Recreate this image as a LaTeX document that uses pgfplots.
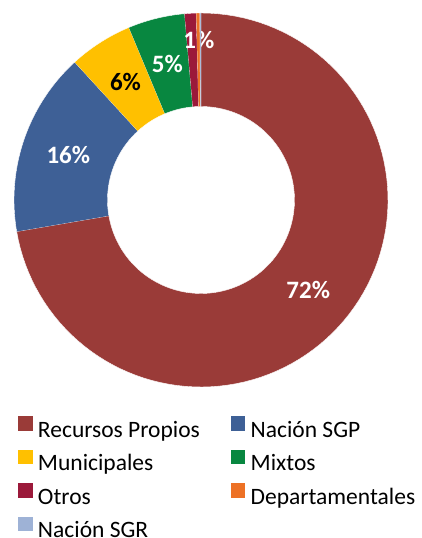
\documentclass[border=0pt]{standalone}
\usepackage{pgfplots}
\pgfplotsset{compat=1.18}
\usepackage{fontspec}
\setmainfont{Carlito}
\definecolor{cRP}{RGB}{154,59,56}
\definecolor{cSGP}{RGB}{62,96,150}
\definecolor{cMun}{RGB}{255,192,0}
\definecolor{cMix}{RGB}{8,135,64}
\definecolor{cOtr}{RGB}{155,25,58}
\definecolor{cDep}{RGB}{237,113,37}
\definecolor{cSGR}{RGB}{158,178,214}
\tikzset{lbl/.style={font=\fontsize{25}{25}\selectfont\bfseries, inner sep=0pt, anchor=center}}
\begin{document}
\begin{tikzpicture}
\begin{axis}[
  width=422pt, height=538pt, scale only axis,
  xmin=-201, xmax=221, ymin=-338, ymax=200,
  hide axis, clip=false,
  legend columns=2,
  legend cell align=left,
  legend style={at={(axis cs:-183,-216)}, anchor=north west, draw=none, fill=none,
    inner sep=0pt, font=\fontsize{23.5}{28}\selectfont,
    nodes={inner sep=0pt, text height=18pt, text depth=5pt},
    row sep=7.75pt,
    /tikz/every odd column/.append style={column sep=5.5pt},
    /tikz/every even column/.append style={column sep=31pt}},
  legend image code/.code={\fill[#1, draw=none] (0pt,0pt) rectangle (14.3pt,14.3pt);},
]
\gdef\cum{0}
\foreach \v/\c/\name/\lab/\lr/\lo/\lc in {
  72.3/cRP/Recursos Propios/72\%/140.25/0/white,
  15.9/cSGP/Nación SGP/16\%/140.25/0/white,
  5.5/cMun/Municipales/6\%/140.25/0/black,
  4.9/cMix/Mixtos/5\%/140.25/0/white,
  1.0/cOtr/Otros/1\%/160/-2.5/white,
  0.3/cDep/Departamentales/{}/140.25/0/white,
  0.1/cSGR/Nación SGR/{}/140.25/0/white}{
  \pgfmathsetmacro\a{90-3.6*\cum}
  \pgfmathsetmacro\b{90-3.6*(\cum+\v)}
  \pgfmathsetmacro\m{(\a+\b)/2+\lo}
  \pgfmathsetmacro\lx{\lr*cos(\m)}
  \pgfmathsetmacro\ly{\lr*sin(\m)}
  \edef\tmp{\noexpand\addplot[fill=\c, draw=white, line width=0.4pt, domain=0:201, samples=202, variable=\noexpand\t]
    ({\noexpand\t<100.5 ? 187*cos((\a)+((\b)-(\a))*\noexpand\t/100) : 93.5*cos((\b)+((\a)-(\b))*(\noexpand\t-101)/100)},
     {\noexpand\t<100.5 ? 187*sin((\a)+((\b)-(\a))*\noexpand\t/100) : 93.5*sin((\b)+((\a)-(\b))*(\noexpand\t-101)/100)});
    \noexpand\addlegendentry{\name}
    \noexpand\node[lbl, text=\lc] at (axis cs:\lx,\ly) {\lab};}
  \tmp
  \pgfmathsetmacro\newcum{\cum+\v}
  \xdef\cum{\newcum}
}
\end{axis}
\pgfresetboundingbox
\path[use as bounding box] (current axis.south west) rectangle (current axis.north east);
\end{tikzpicture}
\end{document}
